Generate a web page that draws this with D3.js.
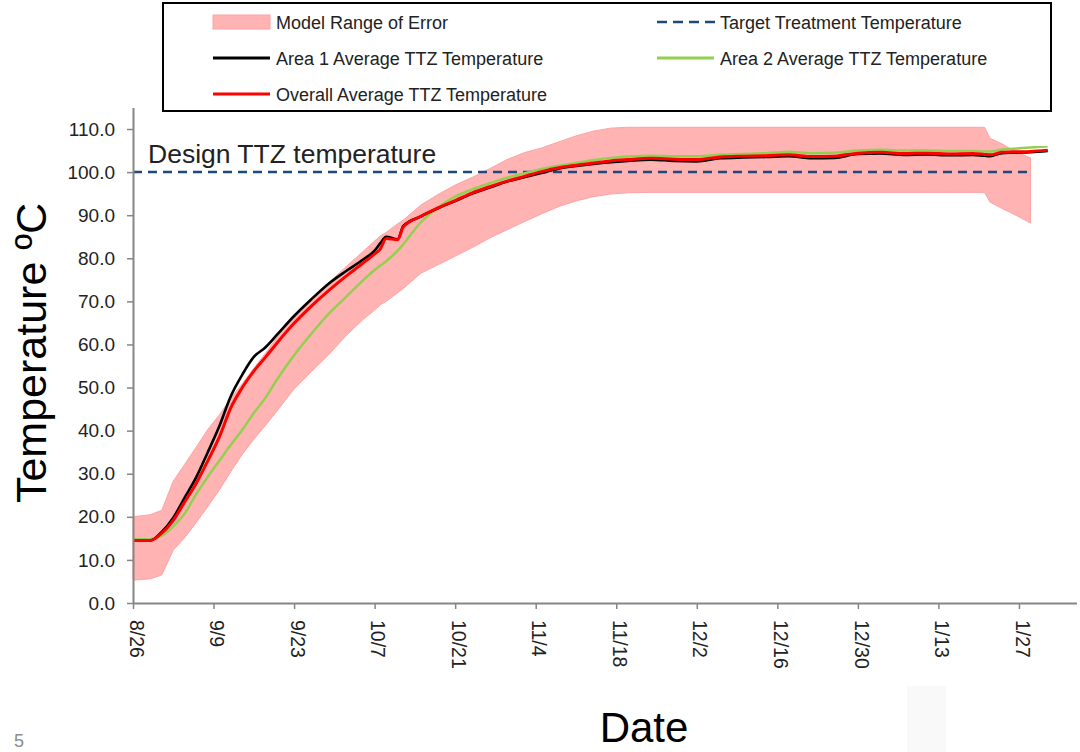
<!DOCTYPE html>
<html>
<head>
<meta charset="utf-8">
<script src="https://cdn.jsdelivr.net/npm/d3@7"></script>
<style>
  html, body { margin: 0; padding: 0; background: #ffffff; }
  svg { display: block; font-family: "Liberation Sans", Arial, sans-serif; }
</style>
</head>
<body>
<svg id="chart" width="1080" height="752"></svg>
<script>
// ---------------- DATA ----------------
const startDateUTC = [2014, 7, 26]; // 8/26
const axisEndDays = 164;
// day offsets from 8/26
const days = [0,3,5,7,9,11,13,15,17,19,21,23,25,28,31,34,37,40,42,43,44,46,47,50,53,56,59,62,65,68,71,74,77,80,83,86,90,94,98,102,106,110,114,118,122,126,130,134,138,142,146,148,149,151,153,156,159];

const area1Temps = [14.5,14.5,16.5,19.8,24.5,29.2,35,41,48,53,57.1,59.3,62.2,66.6,70.5,74.1,77,79.7,81.8,83.5,85,84.4,87.5,89.7,91.6,93.3,95,96.4,97.8,98.8,99.8,100.8,101.4,101.9,102.3,102.6,102.9,102.6,102.5,103.2,103.4,103.5,103.7,103.2,103.3,104.2,104.3,104,104.1,103.9,104,103.8,103.7,104.4,104.5,104.6,104.9];

const area2Temps = [14.8,14.8,15.6,17.8,20.8,25.3,29.3,33,36.7,40.2,44.1,47.6,51.8,57.5,62.5,67.1,71,74.9,77.3,78.3,79.3,81.8,83.3,88.3,91.8,94.3,96,97.4,98.7,99.7,100.7,101.5,102.1,102.8,103.3,103.6,103.8,103.7,103.7,104,104.2,104.4,104.7,104.4,104.5,105,105.2,105,105,104.9,104.9,104.8,104.8,105.2,105.4,105.7,106];

const overallTemps = [14.5,14.5,16.2,19.2,23.5,27.8,33,38.5,45.3,50,53.8,57,60.3,64.9,68.9,72.5,75.8,78.9,81,82.2,84.6,84.3,87.3,89.7,91.7,93.4,95.2,96.6,97.9,99,100.1,101,101.6,102.1,102.6,102.9,103.2,103,102.9,103.5,103.7,103.8,104,103.6,103.7,104.4,104.6,104.3,104.4,104.2,104.3,104.1,104,104.6,104.7,104.8,105.1];

const errorUpper = [20,20.5,21.5,28.3,32.2,36.2,40.3,43.6,47.5,50.9,54.5,57.9,61.6,66.4,70.3,74.3,78,81.6,84,85.2,86,88,88.9,92.3,94.8,97,98.8,100.8,102.9,104.5,105.6,107,108.4,109.5,110.2,110.4,110.4,110.4,110.4,110.4,110.4,110.4,110.4,110.4,110.4,110.4,110.4,110.4,110.4,110.4,110.4,110.4,107.8,106.6,105,103.3,null];

const errorLower = [5.3,5.6,6.5,12.3,15.2,18.7,22.4,26.2,30.5,34.5,38,41.2,44.5,49.7,53.7,57.6,62,65.8,68,69.2,70,72,73,76.5,78.5,80.5,82.5,84.7,86.6,88.5,90.3,92,93.3,94.3,94.9,95.2,95.3,95.3,95.3,95.3,95.3,95.3,95.3,95.3,95.3,95.3,95.3,95.3,95.3,95.3,95.3,95.3,93,91.6,90.3,88.2,null];

const targetTemp = 100;
const targetEndDay = 156;

const xTickLabels = ["8/26","9/9","9/23","10/7","10/21","11/4","11/18","12/2","12/16","12/30","1/13","1/27"];
const xTickDays = [0,14,28,42,56,70,84,98,112,126,140,154];
const yTicks = [0,10,20,30,40,50,60,70,80,90,100,110];

const legendItems = ["Model Range of Error","Target Treatment Temperature","Area 1 Average TTZ Temperature","Area 2 Average TTZ Temperature","Overall Average TTZ Temperature"];

// ---------------- LAYOUT ----------------
const svg = d3.select("#chart");
const start = new Date(Date.UTC(...startDateUTC));
const dayToDate = d => d3.utcDay.offset(start, d);

const x0 = 133, pxPerDay = 5.753;
const x = d3.scaleUtc()
  .domain([start, dayToDate(axisEndDays)])
  .range([x0, x0 + axisEndDays * pxPerDay]);
const y = d3.scaleLinear()
  .domain([0, 115])
  .range([603, 603 - 115 * 4.309]);

const COL = {
  band: "#ffb3b3", bandEdge: "#ffa3a3",
  black: "#000000", green: "#92d050", red: "#ff0000",
  target: "#1f497d", axis: "#868686", text: "#222222"
};

// faint block near bottom
svg.append("rect").attr("x", 907).attr("y", 686).attr("width", 39).attr("height", 66).attr("fill", "#f9f9f9");

// ----- error band -----
const bandData = days.map((d, i) => ({d, lo: errorLower[i], hi: errorUpper[i]}));
const area = d3.area()
  .defined(p => p.lo != null && p.hi != null)
  .x(p => x(dayToDate(p.d)))
  .y0(p => y(p.lo))
  .y1(p => y(p.hi));
svg.append("path").datum(bandData)
  .attr("d", area)
  .attr("fill", COL.band)
  .attr("stroke", COL.bandEdge)
  .attr("stroke-width", 1);

// ----- target line -----
svg.append("line")
  .attr("x1", x(dayToDate(0))).attr("x2", x(dayToDate(targetEndDay)))
  .attr("y1", y(targetTemp)).attr("y2", y(targetTemp))
  .attr("stroke", COL.target).attr("stroke-width", 2.5)
  .attr("stroke-dasharray", "9,6");

svg.append("text")
  .attr("x", 148).attr("y", 163)
  .attr("font-size", 26.5).attr("fill", COL.text)
  .text("Design TTZ temperature");

// ----- series lines -----
const line = d3.line()
  .x(p => x(dayToDate(p.d)))
  .y(p => y(p.v))
  .curve(d3.curveMonotoneX);
const series = [
  {vals: area2Temps, color: COL.green, w: 2.5},
  {vals: area1Temps, color: COL.black, w: 2.6},
  {vals: overallTemps, color: COL.red, w: 3}
];
series.forEach(s => {
  svg.append("path")
    .datum(days.map((d, i) => ({d, v: s.vals[i]})))
    .attr("d", line)
    .attr("fill", "none")
    .attr("stroke", s.color)
    .attr("stroke-width", s.w)
    .attr("stroke-linejoin", "round");
});

// ----- axes -----
const yAxis = d3.axisLeft(y)
  .tickValues(yTicks)
  .tickFormat(d => d.toFixed(1))
  .tickSize(6).tickSizeOuter(0).tickPadding(12);
const gy = svg.append("g").attr("transform", `translate(${x0},0)`).call(yAxis);
gy.select(".domain").attr("stroke", COL.axis).attr("stroke-width", 2);
gy.selectAll(".tick line").attr("stroke", COL.axis).attr("stroke-width", 1.5);
gy.selectAll(".tick text").attr("font-size", 19).attr("fill", COL.text)
  .attr("font-family", "Liberation Sans, Arial, sans-serif");

const xAxis = d3.axisBottom(x)
  .tickValues(xTickDays.map(dayToDate))
  .tickFormat((d, i) => xTickLabels[i])
  .tickSize(6).tickSizeOuter(0);
const gx = svg.append("g").attr("transform", `translate(0,${y(0)})`).call(xAxis);
gx.select(".domain").attr("stroke", COL.axis).attr("stroke-width", 2);
gx.selectAll(".tick line").attr("stroke", COL.axis).attr("stroke-width", 1.5);
gx.selectAll(".tick text")
  .attr("font-size", 19.5).attr("fill", COL.text)
  .attr("font-family", "Liberation Sans, Arial, sans-serif")
  .attr("text-anchor", "start")
  .attr("transform", "rotate(90)")
  .attr("x", 17).attr("y", -3).attr("dy", "0.35em");

// ----- axis titles -----
svg.append("text")
  .attr("transform", "translate(46,353) rotate(-90)")
  .attr("text-anchor", "middle")
  .attr("font-size", 43).attr("fill", "#000")
  .text("Temperature ºC");
svg.append("text")
  .attr("x", 644).attr("y", 742)
  .attr("text-anchor", "middle")
  .attr("font-size", 42).attr("fill", "#000")
  .text("Date");
svg.append("text")
  .attr("x", 14).attr("y", 747)
  .attr("font-size", 18).attr("fill", "#8c8c8c")
  .text("5");

// ----- legend -----
const lg = svg.append("g");
lg.append("rect").attr("x", 163).attr("y", 3).attr("width", 888).attr("height", 108)
  .attr("fill", "#fff").attr("stroke", "#000").attr("stroke-width", 2);
const legendPos = [
  {x: 213, y: 22, type: "band"},
  {x: 657, y: 22, type: "dash"},
  {x: 213, y: 58, type: "line", color: COL.black},
  {x: 657, y: 58, type: "line", color: COL.green},
  {x: 213, y: 94, type: "line", color: COL.red}
];
legendItems.forEach((label, i) => {
  const p = legendPos[i];
  if (p.type === "band") {
    lg.append("rect").attr("x", p.x).attr("y", p.y - 7).attr("width", 57).attr("height", 14)
      .attr("fill", COL.band).attr("stroke", COL.bandEdge).attr("stroke-width", 1);
  } else if (p.type === "dash") {
    lg.append("line").attr("x1", p.x).attr("x2", p.x + 58).attr("y1", p.y).attr("y2", p.y)
      .attr("stroke", COL.target).attr("stroke-width", 2.5).attr("stroke-dasharray", "10,6");
  } else {
    lg.append("line").attr("x1", p.x).attr("x2", p.x + 57).attr("y1", p.y).attr("y2", p.y)
      .attr("stroke", p.color).attr("stroke-width", 3);
  }
  lg.append("text").attr("x", p.x + 63).attr("y", p.y + 6.5)
    .attr("font-size", 18).attr("fill", COL.text).text(label);
});
</script>
</body>
</html>
